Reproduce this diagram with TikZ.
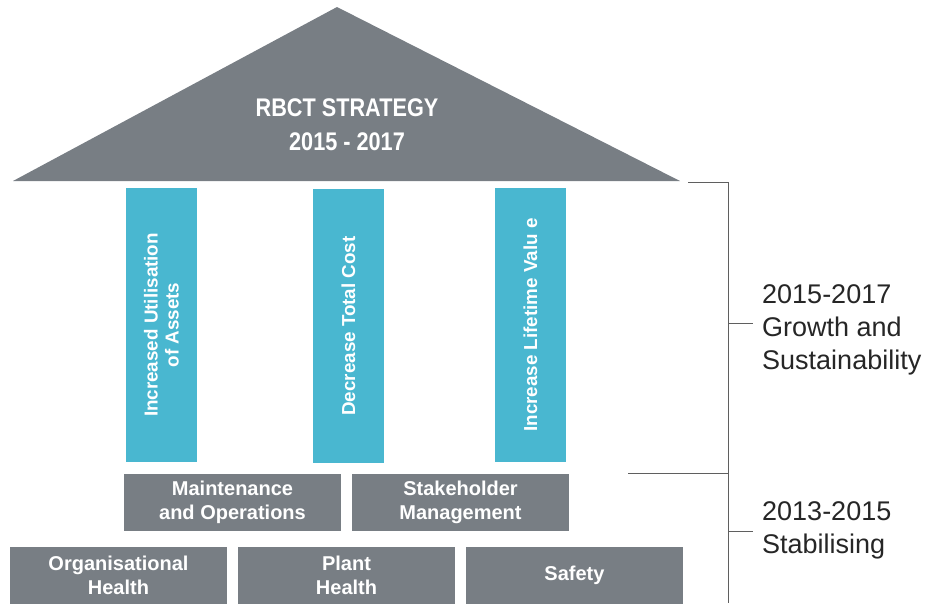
\documentclass[tikz,border=0pt]{standalone}
\usepackage{fontspec}
\setmainfont{Liberation Sans}
\usepackage{tikz}
\usetikzlibrary{positioning}
\definecolor{roofgrey}{RGB}{120,126,132}
\definecolor{pillarblue}{RGB}{73,183,208}
\definecolor{linegrey}{RGB}{95,95,95}

\begin{document}
\begin{tikzpicture}[
    x=1pt, y=-1pt,
    pillar/.style={rectangle, fill=pillarblue, text=white, rotate=90, inner sep=0pt,
                   minimum width=274pt, minimum height=71pt, align=center,
                   font=\fontsize{18.8}{21}\selectfont\bfseries},
    block/.style={rectangle, fill=roofgrey, text=white, inner sep=0pt,
                  minimum width=217pt, minimum height=57pt, align=center,
                  font=\fontsize{20}{24}\selectfont\bfseries},
    period/.style={anchor=west, align=left, inner sep=0pt, text=black!85,
                   font=\fontsize{27}{33}\selectfont},
    bracket/.style={draw=linegrey, line width=0.9pt}
]
    \useasboundingbox (0,0) rectangle (942,603);

    % Roof
    \coordinate (roofL) at (13,181);
    \coordinate (roofT) at (337,7);
    \coordinate (roofR) at (680,181);
    \fill[roofgrey] (roofL) -- (roofT) -- (roofR) -- cycle;
    \node[text=white, align=center, font=\fontsize{25.5}{34}\selectfont\bfseries] (title) at (347,125)
        {\scalebox{0.85}[1]{RBCT STRATEGY}\\\scalebox{0.85}[1]{2015 - 2017}};

    % Pillars
    \node[pillar] (assets) at (161.5,325) {Increased Utilisation\\of Assets};
    \node[pillar] (cost) at (348.5,326) {Decrease Total Cost};
    \node[pillar] (value) at (530.5,325) {Increase Lifetime Valu e};

    % Row 1
    \node[block] (maint) at (232.5,502) {Maintenance\\and Operations};
    \node[block] (stake) at (460.5,502) {Stakeholder\\Management};

    % Row 2
    \node[block] (orghealth) at (118.5,575) {Organisational\\Health};
    \node[block] (planthealth) at (346.5,575) {Plant\\Health};
    \node[block] (safety) at (574.5,575) {Safety};

    % Bracket
    \coordinate (brTop) at (728,182);
    \coordinate (brMid) at (728,473);
    \coordinate (brEnd) at (728,603);
    \coordinate (topStart) at (688,182);
    \coordinate (midStart) at (628,473);
    \coordinate (tickA) at (728,323);
    \coordinate (tickB) at (728,531);
    \draw[bracket] (topStart) -- (brTop) -- (brEnd);
    \draw[bracket] (midStart) -- (brMid);
    \draw[bracket] (tickA) -- ++(25,0);
    \draw[bracket] (tickB) -- ++(25,0);

    % Labels
    \node[period] (growth) at (762,330) {2015-2017\\Growth and\\Sustainability};
    \node[period] (stable) at (762,530) {2013-2015\\Stabilising};
\end{tikzpicture}
\end{document}
